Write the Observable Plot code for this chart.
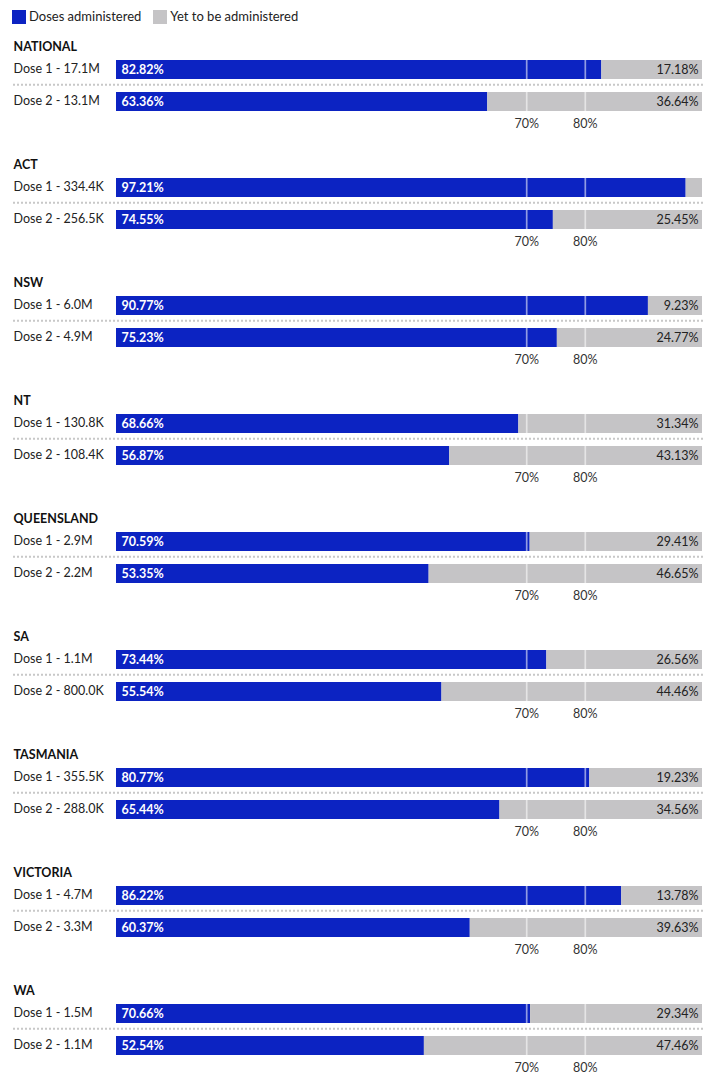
<!DOCTYPE html>
<html>
<head>
<meta charset="utf-8">
<script src="https://cdn.jsdelivr.net/npm/d3@7"></script>
<script src="https://cdn.jsdelivr.net/npm/@observablehq/plot@0.6"></script>
<style>
  body { margin: 0; background: #fff; font-family: Lato, sans-serif; }
  #legend { height: 30px; box-sizing: border-box; padding: 10px 0 0 12px; display: flex; align-items: flex-start; font-size: 13px; color: #222; line-height: 14px; }
  #legend .item { display: flex; align-items: flex-start; margin-right: 12px; }
  #legend .sw { width: 14px; height: 14px; margin-right: 3px; }
  #legend .lab { position: relative; top: -1px; }
</style>
</head>
<body>
<div id="legend"></div>
<div id="chart"></div>
<script>
const regions = ["NATIONAL", "ACT", "NSW", "NT", "QUEENSLAND", "SA", "TASMANIA", "VICTORIA", "WA"];
const dose1Counts = ["17.1M", "334.4K", "6.0M", "130.8K", "2.9M", "1.1M", "355.5K", "4.7M", "1.5M"];
const dose2Counts = ["13.1M", "256.5K", "4.9M", "108.4K", "2.2M", "800.0K", "288.0K", "3.3M", "1.1M"];
const dose1Pct = [82.82, 97.21, 90.77, 68.66, 70.59, 73.44, 80.77, 86.22, 70.66];
const dose2Pct = [63.36, 74.55, 75.23, 56.87, 53.35, 55.54, 65.44, 60.37, 52.54];
const doseKeys = ["Dose 1", "Dose 2"];
const gridTicks = [70, 80];
const legendLabels = ["Doses administered", "Yet to be administered"];
const colors = ["#0c23c2", "#c5c4c6"];

// legend
const legend = document.getElementById("legend");
legendLabels.forEach((lab, i) => {
  const it = document.createElement("div");
  it.className = "item";
  it.innerHTML = `<span class="sw" style="background:${colors[i]}"></span><span class="lab">${lab}</span>`;
  legend.appendChild(it);
});

const rows = regions.flatMap((r, i) => [
  {region: r, dose: doseKeys[0], count: dose1Counts[i], pct: dose1Pct[i]},
  {region: r, dose: doseKeys[1], count: dose2Counts[i], pct: dose2Pct[i]}
]);

const isD1 = d => d.dose === doseKeys[0];
const isD2 = d => d.dose === doseKeys[1];

const chart = Plot.plot({
  width: 712,
  height: 1054,
  marginTop: 0,
  marginBottom: 0,
  marginLeft: 13,
  marginRight: 9,
  style: {fontFamily: "Lato, sans-serif", fontSize: "12.5px", background: "#fff", overflow: "visible"},
  x: {domain: [0, 100], range: [116, 702], axis: null},
  y: {domain: doseKeys, range: [30, 81.3], paddingInner: 0.4, paddingOuter: 0, axis: null},
  fy: {domain: regions, range: [0, 1062], padding: 0, axis: null},
  facet: {data: rows, y: "region"},
  marks: [
    Plot.ruleY(rows, {filter: isD1, y: "dose", dy: 14.8, stroke: "#c8c8c8", strokeWidth: 2, strokeDasharray: "2,2"}),
    Plot.barX(rows, {x1: 0, x2: "pct", y: "dose", fill: colors[0]}),
    Plot.barX(rows, {x1: "pct", x2: 100, y: "dose", fill: colors[1]}),
    ...gridTicks.map(t => Plot.tickX(rows, {x: t, y: "dose", stroke: "#fff", strokeOpacity: 0.55, strokeWidth: 1.7})),
    Plot.text(rows, {filter: isD1, y: "dose", text: "region", frameAnchor: "left", textAnchor: "start", dy: -23.4, fontWeight: "bold", fontSize: 12.5, fill: "#111"}),
    Plot.text(rows, {y: "dose", text: d => `${d.dose} - ${d.count}`, frameAnchor: "left", textAnchor: "start", dy: -1.5, fontSize: 12.5, fill: "#222"}),
    Plot.text(rows, {x: 0, y: "dose", text: d => d.pct.toFixed(2) + "%", textAnchor: "start", dx: 5, fill: "#fff", fontWeight: "bold", fontSize: 12.5}),
    Plot.text(rows, {filter: d => 100 - d.pct > 5, x: 100, y: "dose", text: d => (100 - d.pct).toFixed(2) + "%", textAnchor: "end", dx: -4, fill: "#222", fontSize: 12.5}),
    ...gridTicks.map(t => Plot.text(rows, {filter: isD2, x: t, y: "dose", text: () => t + "%", dy: 21.6, fill: "#333", fontSize: 12.5}))
  ]
});
document.getElementById("chart").appendChild(chart);
</script>
</body>
</html>
